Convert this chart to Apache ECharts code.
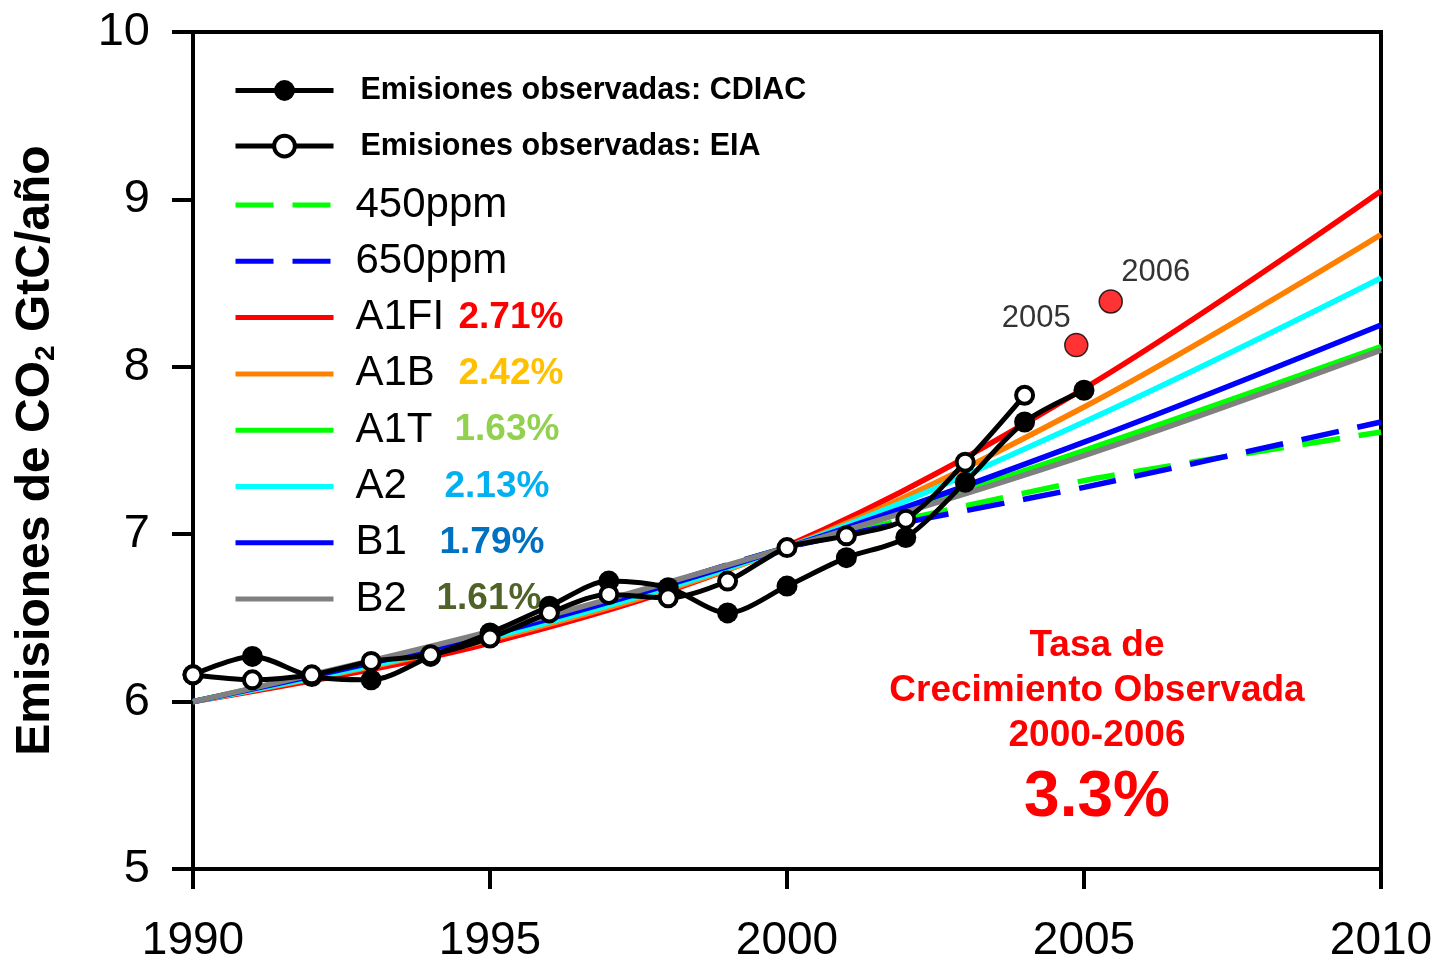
<!DOCTYPE html>
<html>
<head>
<meta charset="utf-8">
<script src="https://cdn.jsdelivr.net/npm/echarts@6/dist/echarts.min.js"></script>
<style>
  html, body { margin: 0; padding: 0; background: #fff; }
  #chart { width: 1436px; height: 964px; }
</style>
</head>
<body>
<div id="chart"></div>
<script>
// ---- Data -------------------------------------------------------------
// Scenario pathways (GtC/año), sampled every 5 years
const scenarioYears = [1990, 1995, 2000, 2005, 2010];
const a1fi = [6.00, 6.35, 6.93, 7.87, 9.05];
const a1b  = [6.00, 6.37, 6.92, 7.76, 8.79];
const a1t  = [6.00, 6.41, 6.92, 7.50, 8.12];
const a2   = [6.00, 6.38, 6.92, 7.67, 8.53];
const b1   = [6.00, 6.40, 6.92, 7.55, 8.25];
const b2   = [6.00, 6.42, 6.92, 7.47, 8.10];
const ppm450 = [6.00, 6.38, 6.92, 7.32, 7.61];
const ppm650 = [6.00, 6.38, 6.92, 7.28, 7.67];

// Observed emissions
const cdiacYears = [1990, 1991, 1992, 1993, 1994, 1995, 1996, 1997, 1998, 1999, 2000, 2001, 2002, 2003, 2004, 2005];
const cdiac = [6.16, 6.27, 6.15, 6.13, 6.27, 6.41, 6.57, 6.72, 6.68, 6.53, 6.69, 6.86, 6.98, 7.31, 7.67, 7.86];
const eiaYears = [1990, 1991, 1992, 1993, 1994, 1995, 1996, 1997, 1998, 1999, 2000, 2001, 2002, 2003, 2004];
const eia = [6.16, 6.13, 6.16, 6.24, 6.28, 6.38, 6.53, 6.64, 6.62, 6.72, 6.92, 6.99, 7.09, 7.43, 7.83];

// Latest estimates highlighted in red
const recentX = [2004.87, 2005.45];
const recentValues = [8.13, 8.39];
const recentLabels = ['2005', '2006'];

// Growth rates shown next to each scenario name
const scenarioNames = ['A1FI', 'A1B', 'A1T', 'A2', 'B1', 'B2'];
const scenarioRates = ['2.71%', '2.42%', '1.63%', '2.13%', '1.79%', '1.61%'];

// Axis ticks
const xTicks = [1990, 1995, 2000, 2005, 2010];
const yTicks = [5, 6, 7, 8, 9, 10];

// ---- Helpers ----------------------------------------------------------
const zip = (xs, ys) => xs.map((x, i) => [x, ys[i]]);
const SANS = "'Liberation Sans', Arial, sans-serif";

const scenarioColors = {
  'A1FI': '#ff0000', 'A1B': '#ff8000', 'A1T': '#00ff00',
  'A2': '#00ffff', 'B1': '#0000ff', 'B2': '#808080'
};
const rateColors = ['#ff0000', '#ffc000', '#92d050', '#00b0f0', '#0070c0', '#4f6228'];
// room reserved for each scenario name before its rate
const nameWidths = [103, 103, 99, 89, 84, 81];
const DASH = [38, 19];

const legendRich = {
  obs: { fontFamily: SANS, fontWeight: 'bold', fontSize: 30.5, lineHeight: 40, padding: [0, 0, 0, 22], color: '#000' },
  ppm: { fontFamily: SANS, fontSize: 42, lineHeight: 42, padding: [0, 0, 0, 17], color: '#000' }
};
scenarioNames.forEach((n, i) => {
  legendRich['n' + i] = { fontFamily: SANS, fontSize: 42, lineHeight: 42, width: nameWidths[i], padding: [0, 0, 0, 17], color: '#000' };
  legendRich['r' + i] = { fontFamily: SANS, fontWeight: 'bold', fontSize: 37, lineHeight: 42, color: rateColors[i] };
});

function legendText(name) {
  const i = scenarioNames.indexOf(name);
  if (i >= 0) return '{n' + i + '|' + name + '}{r' + i + '|' + scenarioRates[i] + '}';
  if (name.indexOf('Emisiones') === 0) return '{obs|' + name + '}';
  return '{ppm|' + name + '}';
}

// legend entries: plain lines for scenarios, line + marker for observations
const hiddenMarker = { color: 'rgba(0,0,0,0)', borderWidth: 0, opacity: 0 };
const observedLegend = [
  { name: 'Emisiones observadas: CDIAC', lineStyle: { width: 5, color: '#000' }, itemStyle: { color: '#000' } },
  { name: 'Emisiones observadas: EIA', lineStyle: { width: 5, color: '#000' }, itemStyle: { color: '#fff', borderColor: '#000', borderWidth: 4 } }
];
const scenarioLegend = [
  { name: '450ppm', lineStyle: { width: 5, color: '#00ff00', type: DASH }, itemStyle: hiddenMarker },
  { name: '650ppm', lineStyle: { width: 5, color: '#0000ff', type: DASH }, itemStyle: hiddenMarker }
].concat(scenarioNames.map(n => ({
  name: n, lineStyle: { width: 5, color: scenarioColors[n], type: 'solid' }, itemStyle: hiddenMarker
})));

function scenarioSeries(name, values) {
  return {
    name: name, type: 'line', data: zip(scenarioYears, values),
    smooth: 0.35, symbol: 'none', z: 2,
    lineStyle: { color: scenarioColors[name], width: 5.5 },
    itemStyle: { color: scenarioColors[name] }
  };
}
function ppmSeries(name, values, color) {
  return {
    name: name, type: 'line', data: zip(scenarioYears, values),
    smooth: 0.2, symbol: 'none', z: 1,
    lineStyle: { color: color, width: 5.5, type: DASH },
    itemStyle: { color: color }
  };
}

const legendBase = {
  orient: 'vertical', left: 233, padding: 0,
  itemWidth: 98, itemHeight: 26,
  formatter: legendText,
  textStyle: { rich: legendRich },
  selectedMode: false
};

const chart = echarts.init(document.getElementById('chart'), null, { renderer: 'canvas' });

chart.setOption({
  animation: false,
  backgroundColor: '#ffffff',
  grid: { left: 193, right: 55, top: 32, bottom: 90, show: true, borderColor: '#000', borderWidth: 4 },
  xAxis: {
    type: 'value', min: xTicks[0], max: xTicks[xTicks.length - 1], interval: 5,
    axisLine: { onZero: false, lineStyle: { color: '#000', width: 4 } },
    axisTick: { length: 20, lineStyle: { color: '#000', width: 4 } },
    axisLabel: { color: '#000', fontFamily: SANS, fontSize: 46, margin: 49, showMaxLabel: true,
                 formatter: v => String(v) },
    splitLine: { show: false }
  },
  yAxis: {
    type: 'value', min: yTicks[0], max: yTicks[yTicks.length - 1], interval: 1,
    axisLine: { onZero: false, lineStyle: { color: '#000', width: 4 } },
    axisTick: { length: 21, lineStyle: { color: '#000', width: 4 } },
    axisLabel: { color: '#000', fontFamily: SANS, fontSize: 47, margin: 43, formatter: v => String(v) },
    splitLine: { show: false },
    name: '{t|Emisiones de CO}{s|2}{t| GtC/año}',
    nameLocation: 'middle', nameGap: 133, nameRotate: 90,
    nameTextStyle: {
      rich: {
        t: { fontFamily: SANS, fontWeight: 'bold', fontSize: 48, lineHeight: 48, color: '#000' },
        s: { fontFamily: SANS, fontWeight: 'bold', fontSize: 28, lineHeight: 12, verticalAlign: 'bottom', color: '#000' }
      }
    }
  },
  legend: [
    Object.assign({}, legendBase, { top: 75, itemGap: 24.6, data: observedLegend }),
    Object.assign({}, legendBase, { top: 184, itemGap: 14.3, data: scenarioLegend })
  ],
  series: [
    ppmSeries('450ppm', ppm450, '#00ff00'),
    ppmSeries('650ppm', ppm650, '#0000ff'),
    scenarioSeries('A1FI', a1fi),
    scenarioSeries('A1B', a1b),
    scenarioSeries('A1T', a1t),
    scenarioSeries('A2', a2),
    scenarioSeries('B1', b1),
    scenarioSeries('B2', b2),
    {
      name: 'Emisiones observadas: CDIAC', type: 'line', data: zip(cdiacYears, cdiac),
      smooth: 0.3, symbol: 'circle', symbolSize: 21, z: 5,
      lineStyle: { color: '#000', width: 5 },
      itemStyle: { color: '#000' }
    },
    {
      name: 'Emisiones observadas: EIA', type: 'line', data: zip(eiaYears, eia),
      smooth: 0.3, symbol: 'circle', symbolSize: 17, z: 6,
      lineStyle: { color: '#000', width: 5 },
      itemStyle: { color: '#fff', borderColor: '#000', borderWidth: 4 }
    },
    {
      name: 'recent', type: 'scatter', z: 7,
      symbolSize: 23,
      itemStyle: { color: '#ff0000', borderColor: '#000', borderWidth: 1.5 },
      data: recentX.map((x, i) => ({
        value: [x, recentValues[i]],
        label: {
          show: true, formatter: recentLabels[i], position: 'top',
          offset: i === 0 ? [-40, 6] : [45, 4],
          fontFamily: SANS, fontSize: 31, color: '#000'
        }
      }))
    }
  ],
  graphic: [
    { type: 'text', x: 1097, y: 646, style: { text: 'Tasa de', fill: '#ff0000', font: 'bold 37px ' + SANS, align: 'center', verticalAlign: 'middle' } },
    { type: 'text', x: 1097, y: 691, style: { text: 'Crecimiento Observada', fill: '#ff0000', font: 'bold 37px ' + SANS, align: 'center', verticalAlign: 'middle' } },
    { type: 'text', x: 1097, y: 736, style: { text: '2000-2006', fill: '#ff0000', font: 'bold 37px ' + SANS, align: 'center', verticalAlign: 'middle' } },
    { type: 'text', x: 1097, y: 798, style: { text: '3.3%', fill: '#ff0000', font: 'bold 64px ' + SANS, align: 'center', verticalAlign: 'middle' } }
  ]
});
</script>
</body>
</html>
